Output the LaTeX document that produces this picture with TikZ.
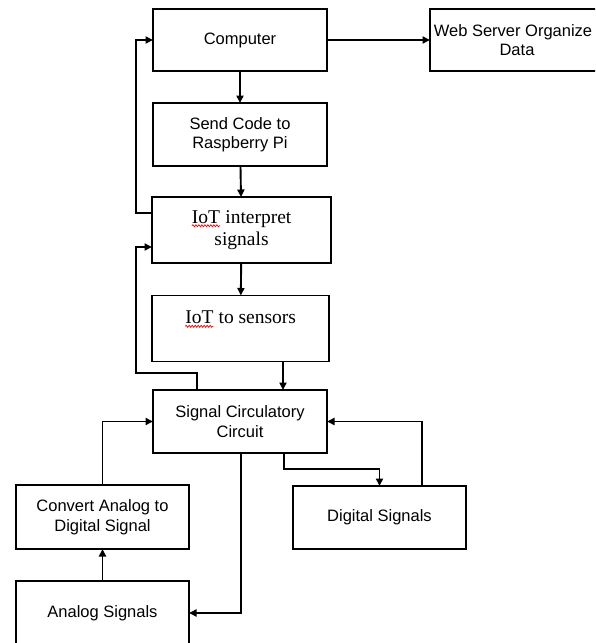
\documentclass[tikz,border=0pt]{standalone}
\usepackage{fontspec}
\setmainfont{Liberation Sans}
\newfontfamily\timesx{Liberation Serif}
\usetikzlibrary{arrows.meta,decorations.pathmorphing}
\newcommand\sperr[1]{\tikz[baseline=(sw.base)]{\node[draw=none,inner sep=0pt,outer sep=0pt,minimum width=0pt,minimum height=0pt](sw){#1};\draw[red,line width=0.7pt,decorate,decoration={snake,amplitude=1pt,segment length=3pt}] ([yshift=-2.2pt]sw.south west) -- ([yshift=-2.2pt]sw.south east);}}
\tikzset{
  box/.style={draw, line width=1.9pt, align=center, inner sep=0pt, outer sep=0pt,
    font=\fontsize{16.5}{19.5}\selectfont},
  serifbox/.style={box, font=\timesx\fontsize{19.5}{22}\selectfont},
  conn/.style={line width=1.9pt, -{Triangle[length=7.5pt,width=7pt]}},
}
\begin{document}
\begin{tikzpicture}[x=1pt,y=-1pt]
\useasboundingbox (0,0) rectangle (595,643);
\clip (0,0) rectangle (595,643);
% boxes
\node[box, minimum width=174pt, minimum height=62pt] (comp) at (240,40) {Computer};
\node[box, minimum width=174pt, minimum height=62pt] (web) at (517,40) {Web Server Organize\hspace*{8pt}\\Data};
\node[box, minimum width=174pt, minimum height=63pt] (send) at (240,134.5) {Send Code to\\Raspberry Pi};
\node[serifbox, minimum width=179pt, minimum height=66pt] (iotint) at (241.5,230) {\sperr{IoT} interpret\\signals};
\node[serifbox, minimum width=177pt, minimum height=66pt] (iotsen) at (240.5,328.5) {\sperr{IoT} to sensors\\\mbox{}};
\node[box, minimum width=174pt, minimum height=63pt] (sig) at (240,421.5) {Signal Circulatory\\Circuit};
\node[box, minimum width=173pt, minimum height=64pt] (conv) at (102.5,517) {Convert Analog to\\Digital Signal};
\node[box, minimum width=173pt, minimum height=63pt] (dig) at (379.5,517.5) {Digital Signals};
\node[box, minimum width=173pt, minimum height=64pt] (ana) at (102.5,613) {Analog Signals};
% bend points
\coordinate (fbA) at (136,213);
\coordinate (fbB) at (136,373);
% connectors
\draw[conn] (comp) -- (send);
\draw[conn] (send) -- (iotint);
\draw[conn] (iotint) -- (iotsen);
\draw[conn] (comp) -- (web);
\draw[conn] ([yshift=17pt]iotint.west) -- (fbA) |- (comp.west);
\draw[conn] ([xshift=-43pt]sig.north) |- (fbB) |- ([yshift=-17pt]iotint.west);
\draw[conn] ([xshift=43pt]sig.north |- iotsen.south) -- ([xshift=43pt]sig.north);
\draw[conn] (conv.north) |- (sig.west);
\draw[conn] (ana.north) -- (conv.south);
\draw[conn] ([xshift=1pt]sig.south) |- (ana.east);
\draw[conn] ([xshift=44pt]sig.south) -- ++(0,16) -| (dig.north);
\draw[conn] ([xshift=42.5pt]dig.north) |- (sig.east);
\end{tikzpicture}
\end{document}
